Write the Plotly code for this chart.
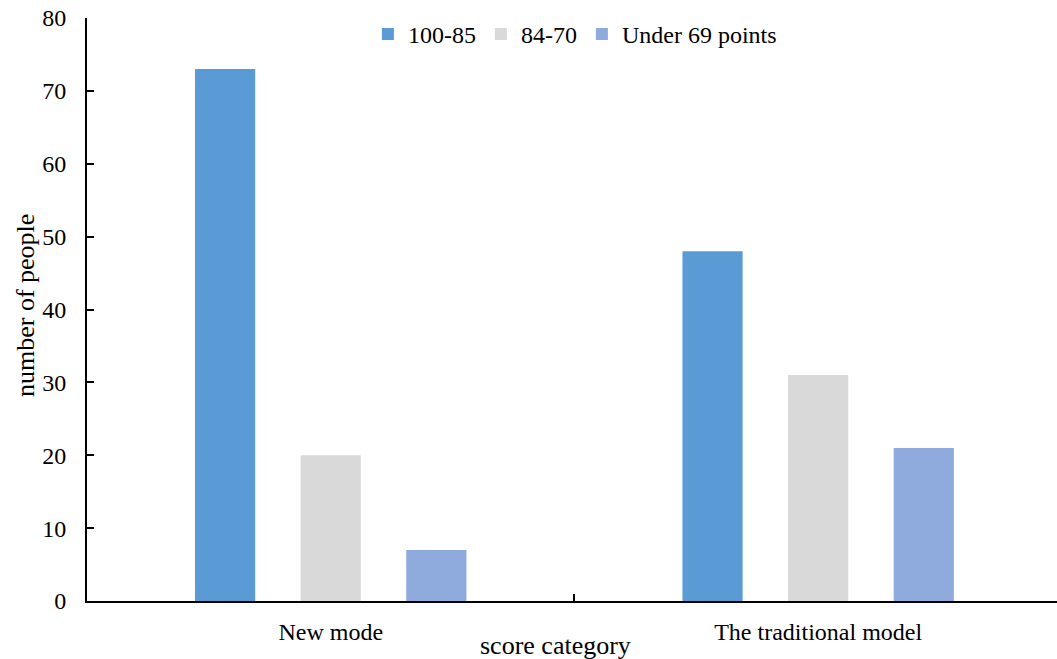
import plotly.graph_objects as go

categories = ["New mode", "The traditional model"]
series_names = ["100-85", "84-70", "Under 69 points"]
high_scores = [73, 48]
mid_scores = [20, 31]
low_scores = [7, 21]
y_ticks = [0, 10, 20, 30, 40, 50, 60, 70, 80]

colors = ["#5B9BD5", "#D9D9D9", "#8FAADC"]
font_family = "Liberation Serif"

fig = go.Figure()
for name, vals, col in zip(series_names, [high_scores, mid_scores, low_scores], colors):
    fig.add_trace(go.Bar(x=categories, y=vals, name=name, marker=dict(color=col, line=dict(width=0))))

fig.update_layout(
    width=1057, height=659,
    margin=dict(l=87, r=0, t=18, b=58),
    plot_bgcolor="white", paper_bgcolor="white",
    barmode="group", bargap=0.35, bargroupgap=0.43,
    font=dict(family=font_family, size=24, color="black"),
    legend=dict(orientation="h", x=0.503, xanchor="center", y=0.972, yanchor="middle",
                font=dict(size=24), itemwidth=30, bgcolor="rgba(0,0,0,0)"),
    showlegend=True,
)
fig.update_xaxes(
    range=[-0.5, 1.49], showline=True, linecolor="black", linewidth=2,
    ticks="inside", tickson="boundaries", ticklen=7, tickwidth=2, tickcolor="black",
    ticklabelstandoff=8, showgrid=False, zeroline=False,
)
fig.update_yaxes(
    range=[0, 80], tickvals=y_ticks, showline=True, linecolor="black", linewidth=2,
    ticks="inside", ticklen=7, tickwidth=2, tickcolor="black",
    ticklabelstandoff=14, showgrid=False, zeroline=False,
)
fig.add_annotation(text="score category", xref="paper", yref="paper",
                   x=(555 - 87) / 970, y=-(645 - 601) / 583, showarrow=False,
                   xanchor="center", yanchor="middle", font=dict(size=26))
fig.add_annotation(text="number of people", xref="paper", yref="paper",
                   x=-(87 - 26) / 970, y=(601 - 306) / 583, showarrow=False,
                   textangle=-90, xanchor="center", yanchor="middle", font=dict(size=26))

fig.write_html("out.html")
